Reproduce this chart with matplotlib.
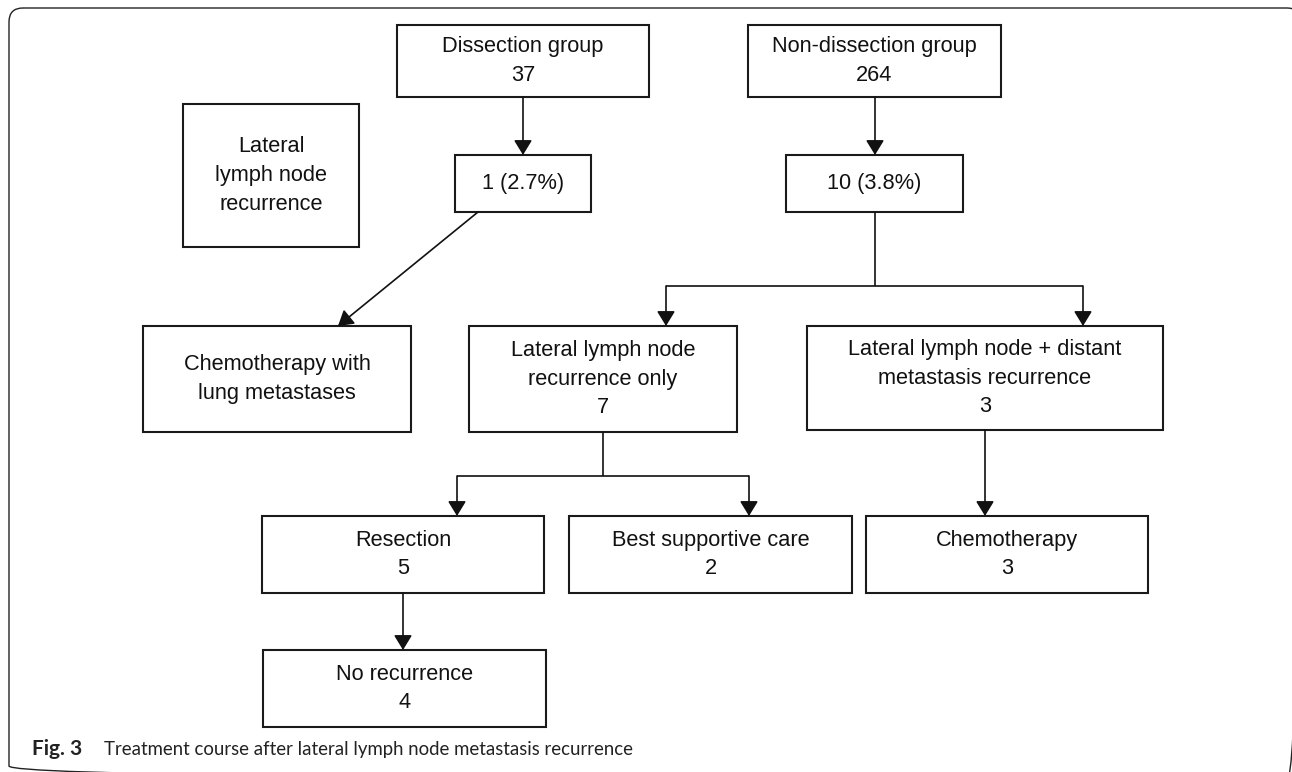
import matplotlib
matplotlib.use("Agg")
import matplotlib.pyplot as plt
from matplotlib.patches import Rectangle, FancyBboxPatch, FancyArrowPatch

# node labels
labels = {
    "diss": "Dissection group\n37",
    "nondiss": "Non-dissection group\n264",
    "rec_d": "1 (2.7%)",
    "rec_n": "10 (3.8%)",
    "legend": "Lateral\nlymph node\nrecurrence",
    "chemo_lung": "Chemotherapy with\nlung metastases",
    "lat_only": "Lateral lymph node\nrecurrence only\n7",
    "lat_dist": "Lateral lymph node + distant\nmetastasis recurrence\n3",
    "resect": "Resection\n5",
    "bsc": "Best supportive care\n2",
    "chemo": "Chemotherapy\n3",
    "norec": "No recurrence\n4",
}
caption_bold = "Fig. 3"
caption_text = "Treatment course after lateral lymph node metastasis recurrence"

# layout in pixels: (left, top, right, bottom)
boxes = {
    "diss": (397, 25, 649, 97),
    "nondiss": (748, 25, 1001, 97),
    "rec_d": (455, 155, 591, 212),
    "rec_n": (786, 155, 963, 212),
    "legend": (183, 104, 359, 247),
    "chemo_lung": (143, 326, 411, 432),
    "lat_only": (469, 326, 737, 432),
    "lat_dist": (807, 326, 1163, 430),
    "resect": (262, 516, 544, 593),
    "bsc": (569, 516, 852, 593),
    "chemo": (866, 516, 1148, 593),
    "norec": (263, 650, 546, 727),
}

W, H = 1292, 772
fig = plt.figure(figsize=(W / 100, H / 100), dpi=100)
ax = fig.add_axes([0, 0, 1, 1])
ax.set_xlim(0, W)
ax.set_ylim(H, 0)
ax.axis("off")

font = "Liberation Sans"

# outer rounded frame
frame = FancyBboxPatch((9, 8), 1292, 772, boxstyle="round,pad=0,rounding_size=14",
                       fill=False, ec="#222222", lw=1.0)
ax.add_patch(frame)

for k, (l, t, r, b) in boxes.items():
    ax.add_patch(Rectangle((l, t), r - l, b - t, fill=False, ec="#1a1a1a", lw=1.5))
    ax.text((l + r) / 2, (t + b) / 2, labels[k], ha="center", va="center",
            fontsize=15.7, family=font, linespacing=1.48, color="#111111")


def line(pts):
    xs = [p[0] for p in pts]
    ys = [p[1] for p in pts]
    ax.plot(xs, ys, color="#111111", lw=1.2, solid_capstyle="butt")


def arrow(p0, p1):
    a = FancyArrowPatch(p0, p1, arrowstyle="-|>,head_length=0.9,head_width=0.55",
                        mutation_scale=10, color="#111111", lw=1.2,
                        shrinkA=0, shrinkB=0)
    ax.add_patch(a)


def cx(k):
    return (boxes[k][0] + boxes[k][2]) / 2


# top arrows
arrow((cx("diss"), boxes["diss"][3]), (cx("diss"), boxes["rec_d"][1]))
arrow((875, boxes["nondiss"][3]), (875, boxes["rec_n"][1]))

# diagonal to chemo with lung metastases
arrow((478, boxes["rec_d"][3]), (338, boxes["chemo_lung"][1]))

# split from 10 (3.8%)
yb = 286
line([(875, boxes["rec_n"][3]), (875, yb)])
line([(666, yb), (1083, yb)])
arrow((666, yb), (666, boxes["lat_only"][1]))
arrow((1083, yb), (1083, boxes["lat_dist"][1]))

# split from lateral only
yb2 = 476
line([(603, boxes["lat_only"][3]), (603, yb2)])
line([(457, yb2), (749, yb2)])
arrow((457, yb2), (457, boxes["resect"][1]))
arrow((749, yb2), (749, boxes["bsc"][1]))

# lateral + distant -> chemo
arrow((985, boxes["lat_dist"][3]), (985, boxes["chemo"][1]))

# resection -> no recurrence
arrow((403, boxes["resect"][3]), (403, boxes["norec"][1]))

# caption
ax.text(32, 749, caption_bold, ha="left", va="center", fontsize=15,
        family="Lato", weight="bold", color="#222222")
ax.text(104, 749, caption_text, ha="left", va="center", fontsize=13.4,
        family="Lato", color="#222222")

fig.savefig("out.png", dpi=100)
